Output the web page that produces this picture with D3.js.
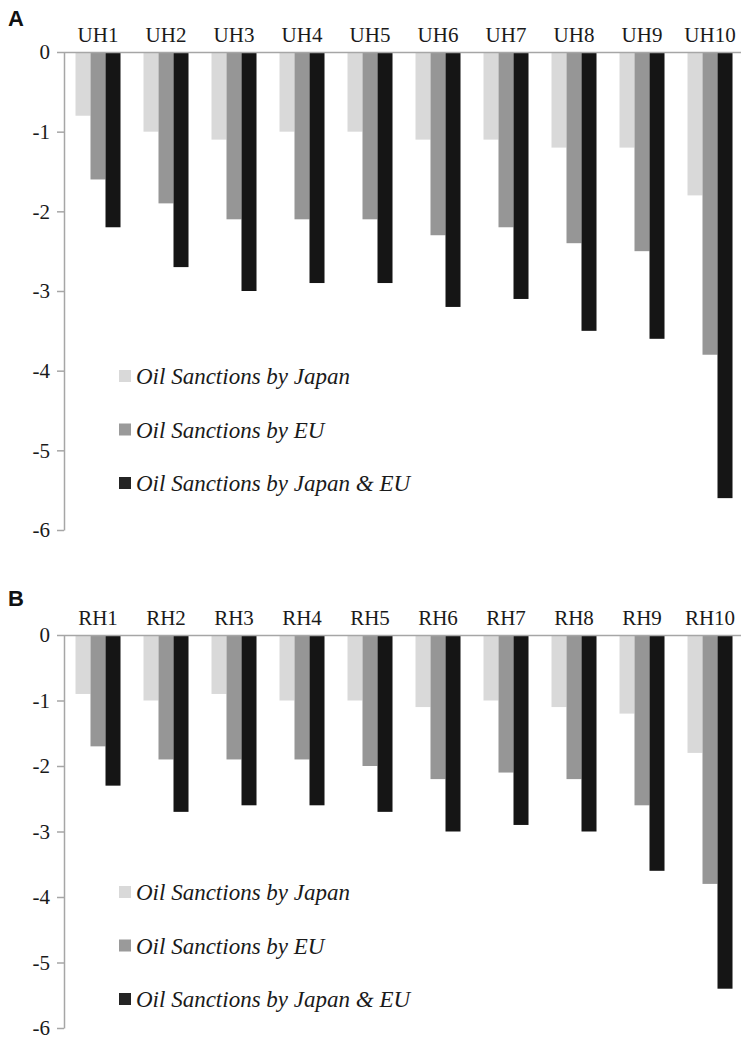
<!DOCTYPE html>
<html>
<head>
<meta charset="utf-8">
<script src="https://cdn.jsdelivr.net/npm/d3@7.9.0/dist/d3.min.js"></script>
<style>
  html, body { margin: 0; padding: 0; background: #fff; }
  svg { display: block; }
</style>
</head>
<body>
<svg id="chart" width="741" height="1040"></svg>
<script>
const groupsA = ["UH1", "UH2", "UH3", "UH4", "UH5", "UH6", "UH7", "UH8", "UH9", "UH10"];
const groupsB = ["RH1", "RH2", "RH3", "RH4", "RH5", "RH6", "RH7", "RH8", "RH9", "RH10"];
const seriesNames = ["Oil Sanctions by Japan", "Oil Sanctions by EU", "Oil Sanctions by Japan & EU"];

const japanA = [-0.8, -1.0, -1.1, -1.0, -1.0, -1.1, -1.1, -1.2, -1.2, -1.8];
const euA    = [-1.6, -1.9, -2.1, -2.1, -2.1, -2.3, -2.2, -2.4, -2.5, -3.8];
const bothA  = [-2.2, -2.7, -3.0, -2.9, -2.9, -3.2, -3.1, -3.5, -3.6, -5.6];

const japanB = [-0.9, -1.0, -0.9, -1.0, -1.0, -1.1, -1.0, -1.1, -1.2, -1.8];
const euB    = [-1.7, -1.9, -1.9, -1.9, -2.0, -2.2, -2.1, -2.2, -2.6, -3.8];
const bothB  = [-2.3, -2.7, -2.6, -2.6, -2.7, -3.0, -2.9, -3.0, -3.6, -5.4];

const yTicks = [0, -1, -2, -3, -4, -5, -6];

const barColors = ["#d9d9d9", "#969696", "#151515"];
const legendColors = ["#d9d9d9", "#9a9a9a", "#242424"];
const axisColor = "#a6a6a6";
const serif = "'Liberation Serif', 'Times New Roman', 'DejaVu Serif', serif";

const svg = d3.select("#chart");

function drawPanel(opts) {
  const { label, groups, series, top, bottom, labelY, legendY } = opts;
  const left = 64, right = 744;

  const x0 = d3.scaleBand()
    .domain(groups)
    .range([left, right])
    .paddingInner(0.338)
    .paddingOuter(0.169);
  const x1 = d3.scaleBand()
    .domain(d3.range(series.length))
    .range([0, x0.bandwidth()]);
  const y = d3.scaleLinear().domain([0, -6]).range([top, bottom]);

  const g = svg.append("g");

  g.append("text")
    .attr("x", 8)
    .attr("y", labelY)
    .attr("font-family", "'Liberation Sans', Arial, sans-serif")
    .attr("font-weight", "bold")
    .attr("font-size", 22)
    .attr("fill", "#111")
    .text(label);

  // bars
  series.forEach((vals, si) => {
    g.append("g")
      .selectAll("rect")
      .data(vals)
      .join("rect")
      .attr("x", (d, i) => x0(groups[i]) + x1(si))
      .attr("y", y(0))
      .attr("width", x1.bandwidth())
      .attr("height", d => y(d) - y(0))
      .attr("fill", barColors[si]);
  });

  // zero line across top
  g.append("line")
    .attr("x1", left)
    .attr("x2", right)
    .attr("y1", y(0) + 0.5)
    .attr("y2", y(0) + 0.5)
    .attr("stroke", axisColor)
    .attr("stroke-width", 1.5);

  // y axis
  const yAxis = g.append("g")
    .attr("transform", `translate(${left},0)`)
    .call(d3.axisLeft(y).tickValues(yTicks).tickSize(7).tickSizeOuter(0).tickPadding(7).tickFormat(d => String(d)));
  yAxis.attr("font-family", serif).attr("font-size", 21);
  yAxis.select(".domain").attr("stroke", axisColor).attr("stroke-width", 1.5);
  yAxis.selectAll(".tick line").attr("stroke", axisColor).attr("stroke-width", 1.5);
  yAxis.selectAll(".tick text").attr("fill", "#1a1a1a");

  // category labels
  g.append("g")
    .attr("font-family", serif)
    .attr("font-size", 21)
    .attr("fill", "#1a1a1a")
    .selectAll("text")
    .data(groups)
    .join("text")
    .attr("x", d => x0(d) + x0.bandwidth() / 2)
    .attr("y", y(0) - 10)
    .attr("text-anchor", "middle")
    .text(d => d);

  // legend
  const lg = g.append("g")
    .attr("font-family", serif)
    .attr("font-style", "italic")
    .attr("font-size", 23)
    .attr("fill", "#1a1a1a");
  seriesNames.forEach((name, i) => {
    const cy = legendY + i * 53.5;
    lg.append("rect")
      .attr("x", 119)
      .attr("y", cy - 6)
      .attr("width", 12)
      .attr("height", 12)
      .attr("fill", legendColors[i]);
    lg.append("text")
      .attr("x", 136)
      .attr("y", cy + 8)
      .text(name);
  });
}

drawPanel({
  label: "A",
  groups: groupsA,
  series: [japanA, euA, bothA],
  top: 52,
  bottom: 530,
  labelY: 26,
  legendY: 376
});

drawPanel({
  label: "B",
  groups: groupsB,
  series: [japanB, euB, bothB],
  top: 635,
  bottom: 1028,
  labelY: 606,
  legendY: 892
});
</script>
</body>
</html>
